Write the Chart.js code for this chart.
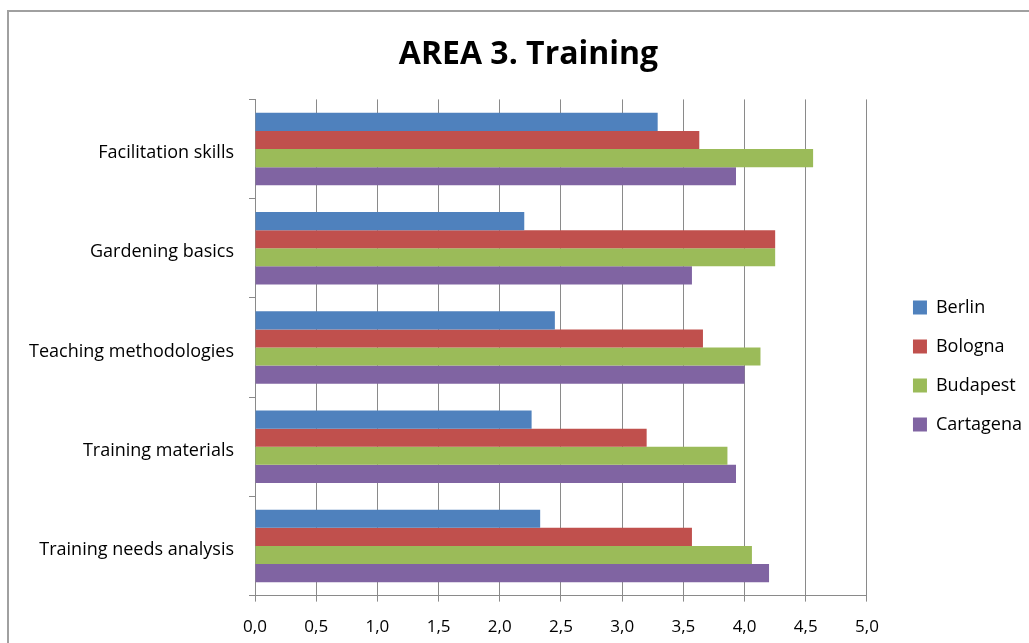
<!DOCTYPE html>
<html>
<head>
<meta charset="utf-8">
<script src="https://cdn.jsdelivr.net/npm/chart.js@4/dist/chart.umd.min.js"></script>
<style>
    body { margin: 0; background: #fff; overflow: hidden; }
    #frame { position: absolute; left: 7px; top: 10px; width: 1100px; height: 700px; border: 2px solid #a0a0a0; box-sizing: border-box; }
    #wrap { position: absolute; left: 0; top: 0; width: 1029px; height: 656px; }
</style>
</head>
<body>
<div id="frame"></div>
<div id="wrap"><canvas id="myChart" width="1029" height="656"></canvas></div>
<script>
const categories = ['Facilitation skills', 'Gardening basics', 'Teaching methodologies', 'Training materials', 'Training needs analysis'];
const cities = ['Berlin', 'Bologna', 'Budapest', 'Cartagena'];
const berlin    = [3.29, 2.20, 2.45, 2.26, 2.33];
const bologna   = [3.63, 4.25, 3.66, 3.20, 3.57];
const budapest  = [4.56, 4.25, 4.13, 3.86, 4.06];
const cartagena = [3.93, 3.57, 4.00, 3.93, 4.20];
const xTicks = [0, 0.5, 1, 1.5, 2, 2.5, 3, 3.5, 4, 4.5, 5];

const colors = ['#4F81BD', '#C0504D', '#9BBB59', '#8064A2'];
const series = [berlin, bologna, budapest, cartagena];
const fontFamily = '"Open Sans", Lato, sans-serif';

// move legend away from the plot and title a bit right, like the excel original
const nudge = {
    id: 'nudge',
    afterLayout(chart) {
        const l = chart.legend;
        const dx = chart.chartArea.right + 25 - l.left;
        l.left += dx; l.right += dx;
        l.top += 30; l.bottom += 30;
        const t = chart.titleBlock;
        t.left += 21; t.right += 21;
    }
};

new Chart(document.getElementById('myChart').getContext('2d'), {
    type: 'bar',
    data: {
        labels: categories,
        datasets: series.map((values, i) => ({
            label: cities[i],
            data: values,
            backgroundColor: colors[i],
            borderWidth: 0,
            categoryPercentage: 0.73,
            barPercentage: 1.0
        }))
    },
    options: {
        indexAxis: 'y',
        responsive: false,
        animation: false,
        layout: { padding: { left: 8, right: 22, top: 20, bottom: 4 } },
        plugins: {
            title: {
                display: true,
                text: 'AREA 3. Training',
                color: '#000',
                font: { family: fontFamily, size: 32, weight: 'bold' },
                padding: { top: 16, bottom: 25 }
            },
            legend: {
                position: 'right',
                labels: {
                    boxWidth: 14,
                    boxHeight: 14,
                    padding: 21,
                    color: '#000',
                    font: { family: fontFamily, size: 18 }
                }
            },
            tooltip: { enabled: false }
        },
        scales: {
            x: {
                min: 0,
                max: 5,
                afterBuildTicks: axis => { axis.ticks = xTicks.map(v => ({ value: v })); },
                grid: { color: '#8a8a8a', tickLength: 6 },
                border: { color: '#8a8a8a' },
                ticks: {
                    padding: 15,
                    color: '#000',
                    font: { family: fontFamily, size: 17 },
                    callback: v => v.toFixed(1).replace('.', ',')
                }
            },
            y: {
                afterFit: axis => { axis.width = 247; },
                grid: { drawOnChartArea: false, color: '#8a8a8a', tickLength: 6, offset: true },
                border: { color: '#8a8a8a' },
                ticks: {
                    padding: 15,
                    labelOffset: 4,
                    color: '#000',
                    font: { family: fontFamily, size: 18 }
                }
            }
        }
    },
    plugins: [nudge]
});
</script>
</body>
</html>
